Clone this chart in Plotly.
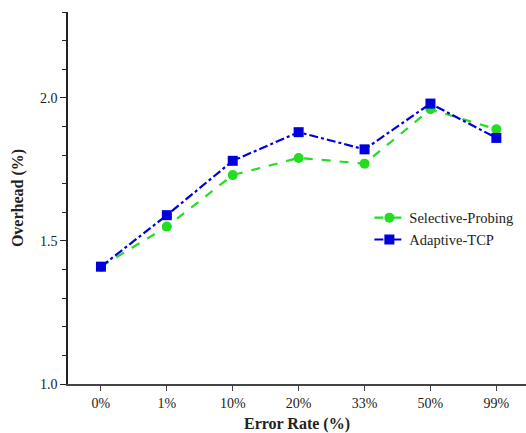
import plotly.graph_objects as go

categories = ["0%", "1%", "10%", "20%", "33%", "50%", "99%"]
selective = [1.41, 1.55, 1.73, 1.79, 1.77, 1.96, 1.89]
adaptive = [1.41, 1.59, 1.78, 1.88, 1.82, 1.98, 1.86]

font = "Liberation Serif"
x_idx = list(range(len(categories)))

fig = go.Figure()
fig.add_trace(go.Scatter(
    x=x_idx, y=selective, name="Selective-Probing", mode="lines+markers",
    line=dict(color="#22dd22", width=2.2, dash="dash"),
    marker=dict(symbol="circle", size=10, color="#22dd22"),
))
fig.add_trace(go.Scatter(
    x=x_idx, y=adaptive, name="Adaptive-TCP", mode="lines+markers",
    line=dict(color="#0000dd", width=2.2, dash="dashdot"),
    marker=dict(symbol="square", size=10, color="#0000dd"),
))

fig.update_layout(
    width=526, height=433,
    margin=dict(l=68, r=0, t=12, b=49),
    paper_bgcolor="white", plot_bgcolor="white",
    font=dict(family=font, size=14, color="#222"),
    showlegend=True,
    legend=dict(x=0.658, y=0.49, xanchor="left", yanchor="top",
                bgcolor="rgba(0,0,0,0)", font=dict(size=14.5, family=font),
                tracegroupgap=0, itemwidth=30),
    xaxis=dict(
        range=[-0.5, 6.45], tickmode="array", tickvals=x_idx, ticktext=categories,
        showline=True, linecolor="#444", linewidth=1.5, ticks="outside",
        ticklen=5, tickcolor="#444", showgrid=False, zeroline=False,
        tickfont=dict(size=14, family=font),
        title=dict(text="<b>Error Rate (%)</b>", font=dict(size=16, family=font), standoff=8),
    ),
    yaxis=dict(
        range=[1.0, 2.3], tickvals=[1.0, 1.5, 2.0], tickformat=".1f",
        showline=True, linecolor="#222", linewidth=1.5, ticks="outside",
        ticklen=6, tickcolor="#222", showgrid=False, zeroline=False,
        tickfont=dict(size=14, family=font),
        minor=dict(dtick=0.1, ticks="outside", ticklen=4, tickcolor="#222", showgrid=False),
        title=dict(text="<b>Overhead (%)</b>", font=dict(size=16, family=font), standoff=12),
    ),
)

fig.write_html("out.html")
